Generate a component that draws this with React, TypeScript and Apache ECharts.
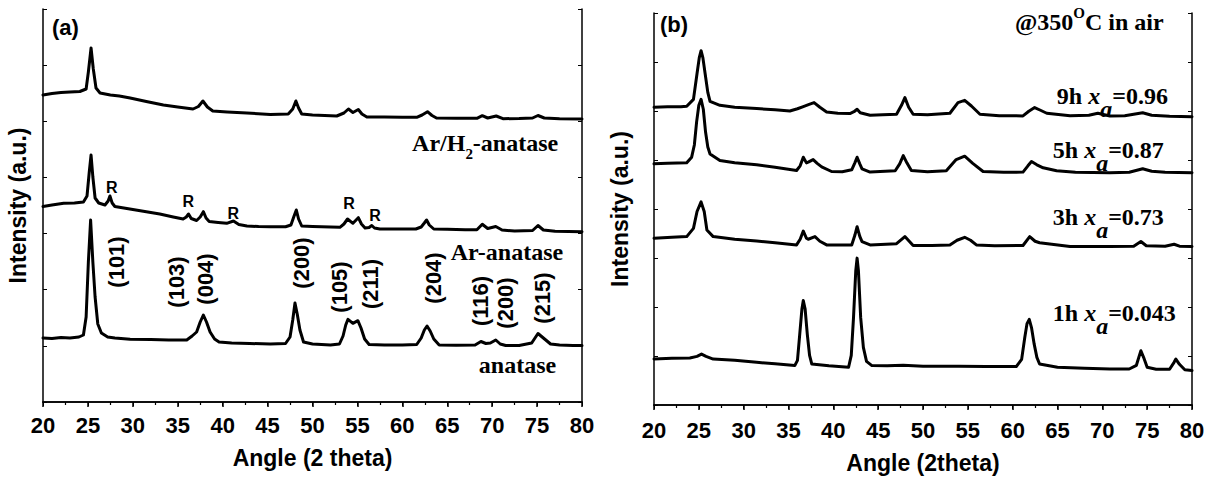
import React, { useEffect, useRef } from 'react';
import * as echarts from 'echarts';

// ---------- Panel (a) data: [angle, intensity (a.u.)] ----------
const arH2Anatase: [number, number][] = [
  [20, 307], [21, 308.5], [22, 309.5], [23, 310], [24.1, 310.5], [24.8, 313], [25.05, 330], [25.35, 354], [25.6, 333], [25.9, 314],
  [26.35, 309], [27.5, 307], [28.5, 306], [29.7, 304], [31.5, 300.5], [33.4, 297], [35, 295], [36.7, 293], [37.3, 295.5], [37.8, 301],
  [38.3, 295], [38.9, 291], [40.5, 290], [42.7, 289], [45.3, 287.5], [47.3, 288], [47.8, 293], [48.15, 301], [48.45, 294], [48.8, 288],
  [50, 287], [52.7, 286], [53.5, 289], [54.0, 293], [54.5, 289.5], [55.1, 292.5], [55.5, 288], [56.05, 285], [58, 285], [60, 284.7],
  [61.6, 284.7], [62.2, 287], [62.8, 290.3], [63.3, 286.5], [63.8, 284], [66, 283.8], [68.3, 283.7], [68.9, 286.3], [69.5, 284],
  [70.45, 286], [71.2, 283.3], [73, 283.5], [74.5, 284], [75.1, 286.5], [75.8, 284], [77.5, 283.3], [80, 283],
];

const arAnatase: [number, number][] = [
  [20, 195.5], [21, 197], [22.3, 198.7], [23.5, 199], [24.5, 200], [24.9, 206], [25.15, 230], [25.35, 247], [25.55, 225], [25.8, 204],
  [26.2, 199], [26.9, 197], [27.25, 201], [27.45, 206], [27.7, 199], [28, 195.5], [29, 194], [30, 192.5], [31.5, 190.3], [33, 188],
  [34.5, 185], [35.6, 183], [35.95, 185], [36.2, 188], [36.5, 183.5], [37.1, 181.5], [37.5, 185], [37.85, 190.3], [38.15, 184],
  [38.5, 180.5], [39.5, 179.5], [40.45, 178.7], [41.2, 181], [41.8, 177.5], [42.7, 176], [44, 175.5], [45.3, 175.3], [47, 175.3],
  [47.6, 177], [47.95, 186], [48.2, 192], [48.45, 183], [48.8, 176], [50, 175.5], [52, 175], [53.05, 174.7], [53.5, 178], [53.9, 183],
  [54.5, 178.7], [55.1, 184.3], [55.45, 178], [55.85, 174], [56.3, 174.5], [56.6, 176.5], [56.9, 174], [57.5, 173], [59, 173],
  [61.5, 173], [62.1, 175], [62.45, 179], [62.7, 182], [63.0, 177], [63.5, 173], [65, 172.7], [67, 172.3], [68.3, 172.2], [68.9, 177.7],
  [69.5, 173.5], [70.4, 175.5], [71.1, 172], [72.5, 171], [74.5, 171.5], [75.1, 176.5], [75.7, 172], [77, 170.8], [78.5, 170.5], [80, 170.3],
];

const anatase: [number, number][] = [
  [20, 64], [21, 63.5], [22, 64.5], [23, 64], [24, 65], [24.5, 67], [24.8, 85], [25.05, 140], [25.3, 182], [25.55, 140], [25.8, 105],
  [26.1, 78], [26.5, 69], [27.2, 65], [28, 64], [29.7, 62.7], [32, 62.5], [34, 62], [36, 62], [36.6, 66], [37.1, 70], [37.5, 80],
  [37.85, 87], [38.2, 80], [38.6, 70], [39.1, 63], [39.6, 60], [41, 59], [43, 58.5], [45.3, 58], [47, 58.5], [47.5, 65], [47.8, 82],
  [48.05, 99], [48.3, 88], [48.6, 72], [49, 60], [50, 58], [52, 57], [53, 58], [53.4, 66], [53.7, 77], [53.95, 82.7], [54.5, 78.7],
  [55.05, 81.3], [55.4, 74], [55.8, 63], [56.3, 57.5], [58, 57], [60, 57], [61.6, 57.5], [62.1, 64], [62.45, 72], [62.75, 76],
  [63.1, 71], [63.5, 63], [64.1, 57], [66, 56.8], [68.1, 57], [68.75, 60.5], [69.3, 58.5], [69.8, 59], [70.4, 62], [70.9, 58],
  [71.5, 56.5], [73, 56.5], [74.4, 59], [75.1, 68.5], [75.7, 64], [76.5, 58], [77.5, 57], [79, 56.5], [80, 56.5],
];

// ---------- Panel (b) data ----------
const h9: [number, number][] = [
  [20, 300], [21.5, 300.5], [23, 300.5], [23.65, 301], [24.4, 308], [24.8, 334], [25.05, 350], [25.25, 357], [25.45, 350], [25.7, 334],
  [26.0, 315], [26.25, 306], [27.35, 302], [29, 300], [31.45, 298.7], [33.5, 297.5], [35.15, 296.3], [36, 298.5], [36.65, 300.7],
  [37.3, 303], [37.85, 304.7], [38.5, 300], [39.25, 295.3], [40.5, 294], [41.85, 293.7], [42.3, 295.5], [42.65, 298], [43, 294.5],
  [44.1, 292], [45.5, 292.5], [47.05, 293], [47.6, 302], [47.98, 309.7], [48.4, 300], [48.9, 293], [50.5, 292.5], [53.0, 294],
  [53.9, 304.7], [54.65, 307], [55.4, 301.3], [56.35, 293], [58.5, 291.5], [61.15, 291.3], [61.8, 296], [62.45, 299.7], [63.1, 297],
  [63.8, 294], [66.4, 291.5], [68.5, 292], [69.5, 294], [70.85, 291.3], [72.5, 291.5], [74.5, 294.5], [75.5, 292], [77.5, 291], [80, 290.5],
];

const h5: [number, number][] = [
  [20, 243], [21.5, 243.5], [23.65, 244], [24.2, 249.7], [24.5, 262], [24.75, 285], [25.0, 302], [25.25, 308], [25.5, 298], [25.75, 275],
  [26.0, 260], [26.25, 253], [27.35, 246.3], [29, 244], [31.45, 242], [33.5, 239.5], [35.9, 236.3], [36.3, 241], [36.65, 249.7],
  [37.0, 244], [37.2, 244.7], [37.75, 247.3], [38.2, 243.5], [38.7, 240], [39.8, 235.3], [41, 235], [42.05, 237], [42.4, 244],
  [42.65, 249.7], [42.95, 243], [43.2, 238], [44.1, 234.7], [46.9, 236], [47.4, 243], [47.8, 251.3], [48.2, 244], [48.7, 236.3],
  [50.5, 235], [52.6, 236], [53.7, 247.3], [54.65, 250.7], [55.55, 243.5], [56.7, 235.3], [59, 234.5], [61.15, 234.7], [61.7, 241],
  [62.1, 245.3], [62.7, 242], [63.4, 239], [64.9, 236], [67, 234.5], [70.85, 234], [73, 234.5], [74.5, 238], [75.5, 235.5], [77, 234.5], [80, 234],
];

const h3: [number, number][] = [
  [20, 168], [22, 169], [23.65, 169.7], [24.4, 178], [24.8, 195], [25.25, 204.7], [25.6, 195], [25.9, 176.3], [26.6, 169.7], [29, 167],
  [31.45, 165.3], [33.5, 163.5], [35.9, 161.3], [36.3, 167], [36.65, 175.3], [37.0, 168], [37.2, 167], [37.95, 169.7], [38.5, 165],
  [39.25, 161.3], [42.05, 161.3], [42.4, 171], [42.65, 179.7], [42.95, 170], [43.2, 164.7], [44.1, 161.3], [47.05, 162.5], [47.98, 169.7],
  [48.9, 160.7], [51, 160.7], [53.0, 161.3], [53.8, 166], [54.65, 169], [55.3, 166], [55.95, 161.3], [58, 160.5], [61.15, 160.7],
  [61.9, 169.7], [62.5, 165], [63.0, 163.5], [66.4, 159.7], [70.85, 159.7], [73.5, 160], [74.3, 164.7], [74.9, 160.5], [77, 160],
  [78, 162], [78.6, 160], [80, 159.7],
];

const h1: [number, number][] = [
  [20, 46.3], [22, 47], [24.0, 47.3], [24.8, 49], [25.3, 51.3], [25.8, 49], [26.6, 46.3], [29, 45], [31.45, 43], [33.5, 41.5],
  [35.7, 39.7], [36.0, 45], [36.25, 71], [36.5, 97], [36.65, 105.3], [36.85, 97], [37.1, 71], [37.35, 50], [37.6, 41.3], [39.5, 39.5],
  [41.7, 38], [42.0, 50], [42.25, 88], [42.5, 135], [42.65, 148], [42.8, 135], [43.05, 88], [43.35, 58], [43.7, 44], [44.3, 39.7],
  [46, 39.5], [47.8, 40], [50, 39], [54, 39], [57, 38.8], [60.4, 38.7], [61.0, 46], [61.35, 68], [61.6, 82], [61.85, 86.3], [62.1, 78],
  [62.4, 61.3], [62.7, 48], [63.0, 41.3], [65, 38], [68, 37], [70.85, 36.3], [73, 36.3], [73.8, 40], [74.1, 49], [74.3, 54.7],
  [74.6, 48], [75.0, 38], [76, 36], [77.5, 36], [78.0, 43], [78.2, 46.3], [78.6, 41], [79.2, 35.5], [80, 34.7],
];

// ---------- Annotations (anchored in data coordinates) ----------
const peakLabelsA = [
  { t: '(101)', x: 28.13, y: 140 }, { t: '(103)', x: 34.89, y: 120 }, { t: '(004)', x: 38.04, y: 123 },
  { t: '(200)', x: 48.8, y: 139 }, { t: '(105)', x: 52.96, y: 115 }, { t: '(211)', x: 56.41, y: 118 },
  { t: '(204)', x: 63.46, y: 124 }, { t: '(116)', x: 68.66, y: 101 }, { t: '(200)', x: 71.45, y: 99 },
  { t: '(215)', x: 75.57, y: 104 },
];
const rutileMarks = [
  { x: 27.65, y: 215 }, { x: 36.18, y: 201 }, { x: 41.19, y: 189 }, { x: 54.08, y: 199 }, { x: 56.97, y: 187 },
];
const curveNamesA = [
  { t: '{n|Ar/H}{s|2}{n|-anatase}', x: 77.35, y: 257 },
  { t: '{n|Ar-anatase}', x: 77.9, y: 148 },
  { t: '{n|anatase}', x: 77.13, y: 35 },
];
const curveNamesB = [
  { t: '{n|@350}{sup|O}{n|C in air}', x: 60.25, y: 388 },
  { t: '{n|9h }{i|x}{sub|a}{n|=0.96}', x: 64.93, y: 309 },
  { t: '{n|5h }{i|x}{sub|a}{n|=0.87}', x: 64.48, y: 255 },
  { t: '{n|3h }{i|x}{sub|a}{n|=0.73}', x: 64.48, y: 187 },
  { t: '{n|1h }{i|x}{sub|a}{n|=0.043}', x: 64.48, y: 91 },
];
const xTicks = { min: 20, max: 80, interval: 5 };

const SANS = 'Liberation Sans, Arial, sans-serif';
const SERIF = 'Liberation Serif, Times New Roman, serif';

export default function App() {
  const ref = useRef<HTMLDivElement>(null);

  useEffect(() => {
    if (!ref.current) return;
    const chart = echarts.init(ref.current, undefined, { renderer: 'svg' });

    const axisLine = { show: true, lineStyle: { color: '#000', width: 1.5 } };
    const mkX = (gridIndex: number, name: string, gap: number, margin: number) => [
      {
        type: 'value', gridIndex, position: 'bottom', ...xTicks,
        name, nameLocation: 'middle', nameGap: gap,
        nameTextStyle: { fontFamily: SANS, fontWeight: 'bold', fontSize: 23, color: '#000' },
        axisLine, splitLine: { show: false },
        axisTick: { show: true, inside: false, length: 5, lineStyle: { color: '#000', width: 1.5 } },
        minorTick: { show: true, splitNumber: 2, length: 3, lineStyle: { color: '#000', width: 1.2 } },
        axisLabel: { show: true, margin, fontFamily: SANS, fontWeight: 'bold', fontSize: 22, color: '#000' },
      },
      {
        type: 'value', gridIndex, position: 'top', ...xTicks,
        axisLine, splitLine: { show: false },
        axisTick: { show: true, inside: true, length: 4, lineStyle: { color: '#000', width: 1 } },
        minorTick: { show: true, splitNumber: 2, length: 2, lineStyle: { color: '#000', width: 1 } },
        axisLabel: { show: false },
      },
    ];
    const mkY = (gridIndex: number, max: number, interval: number, gap: number) => [
      {
        type: 'value', gridIndex, position: 'left', min: 0, max, interval,
        name: 'Intensity (a.u.)', nameLocation: 'middle', nameGap: gap,
        nameTextStyle: { fontFamily: SANS, fontWeight: 'bold', fontSize: 23, color: '#000' },
        axisLine, splitLine: { show: false },
        axisTick: { show: true, inside: true, length: 4, lineStyle: { color: '#000', width: 1 } },
        axisLabel: { show: false },
      },
      {
        type: 'value', gridIndex, position: 'right', min: 0, max, interval,
        axisLine, splitLine: { show: false },
        axisTick: { show: true, inside: true, length: 4, lineStyle: { color: '#000', width: 1 } },
        axisLabel: { show: false },
      },
    ];
    const line = (data: [number, number][], xi: number, yi: number) => ({
      type: 'line', data, xAxisIndex: xi, yAxisIndex: yi, showSymbol: false, symbol: 'none',
      lineStyle: { color: '#000', width: 3, join: 'round', cap: 'round' }, silent: true, z: 3,
    });

    chart.setOption({
      animation: false,
      backgroundColor: '#fff',
      grid: [
        { left: 43, top: 9, width: 539, height: 393 },
        { left: 654, top: 13, width: 538, height: 395 },
      ],
      xAxis: [...mkX(0, 'Angle (2 theta)', 44, 12), ...mkX(1, 'Angle (2theta)', 46, 14)],
      yAxis: [...mkY(0, 393, 393 / 7, 14), ...mkY(1, 395, 395 / 8, 23)],
      series: [
        line(arH2Anatase, 0, 0), line(arAnatase, 0, 0), line(anatase, 0, 0),
        line(h9, 2, 2), line(h5, 2, 2), line(h3, 2, 2), line(h1, 2, 2),
      ],
    });

    const pA = (x: number, y: number) => chart.convertToPixel({ seriesIndex: 0 }, [x, y]) as number[];
    const pB = (x: number, y: number) => chart.convertToPixel({ seriesIndex: 3 }, [x, y]) as number[];

    const serifRich = {
      n: { fontFamily: SERIF, fontWeight: 'bold', fontSize: 24, lineHeight: 28, verticalAlign: 'top', fill: '#000' },
      s: { fontFamily: SERIF, fontWeight: 'bold', fontSize: 15, lineHeight: 30, verticalAlign: 'bottom', fill: '#000' },
      i: { fontFamily: SERIF, fontWeight: 'bold', fontStyle: 'italic', fontSize: 24, lineHeight: 28, verticalAlign: 'top', fill: '#000' },
      sub: { fontFamily: SERIF, fontWeight: 'bold', fontStyle: 'italic', fontSize: 24, lineHeight: 37, verticalAlign: 'bottom', fill: '#000' },
      sup: { fontFamily: SERIF, fontWeight: 'bold', fontSize: 15, lineHeight: 18, verticalAlign: 'top', fill: '#000' },
    };
    const supRich = {
      n: { fontFamily: SERIF, fontWeight: 'bold', fontSize: 24, lineHeight: 28, verticalAlign: 'bottom', fill: '#000' },
      sup: { fontFamily: SERIF, fontWeight: 'bold', fontSize: 15, lineHeight: 18, verticalAlign: 'top', fill: '#000' },
    };

    const graphics: any[] = [];
    const a0 = pA(20, 393);
    graphics.push({ type: 'text', x: a0[0] + 9, y: a0[1] + 18, style: { text: '(a)', font: `bold 22px ${SANS}`, fill: '#000', verticalAlign: 'middle' } });
    const b0 = pB(20, 395);
    graphics.push({ type: 'text', x: b0[0] + 6, y: b0[1] + 11, style: { text: '(b)', font: `bold 22px ${SANS}`, fill: '#000', verticalAlign: 'middle' } });

    peakLabelsA.forEach((p) => {
      const [x, y] = pA(p.x, p.y);
      graphics.push({ type: 'text', x, y, rotation: Math.PI / 2, style: { text: p.t, font: `bold 22px ${SANS}`, fill: '#000', align: 'center', verticalAlign: 'middle' } });
    });
    rutileMarks.forEach((p) => {
      const [x, y] = pA(p.x, p.y);
      graphics.push({ type: 'text', x, y, style: { text: 'R', font: `bold 16px ${SANS}`, fill: '#000', align: 'center', verticalAlign: 'middle' } });
    });
    curveNamesA.forEach((p) => {
      const [x, y] = pA(p.x, p.y);
      graphics.push({ type: 'text', x, y: y - 14, style: { text: p.t, rich: serifRich, align: 'right', verticalAlign: 'top' } });
    });
    curveNamesB.forEach((p, i) => {
      const [x, y] = pB(p.x, p.y);
      graphics.push({ type: 'text', x, y: y - 14, style: { text: p.t, rich: i === 0 ? supRich : serifRich, align: 'left', verticalAlign: 'top' } });
    });

    chart.setOption({ graphic: graphics });

    return () => chart.dispose();
  }, []);

  return <div ref={ref} style={{ position: 'absolute', left: 0, top: 0, width: 1212, height: 479 }} />;
}
